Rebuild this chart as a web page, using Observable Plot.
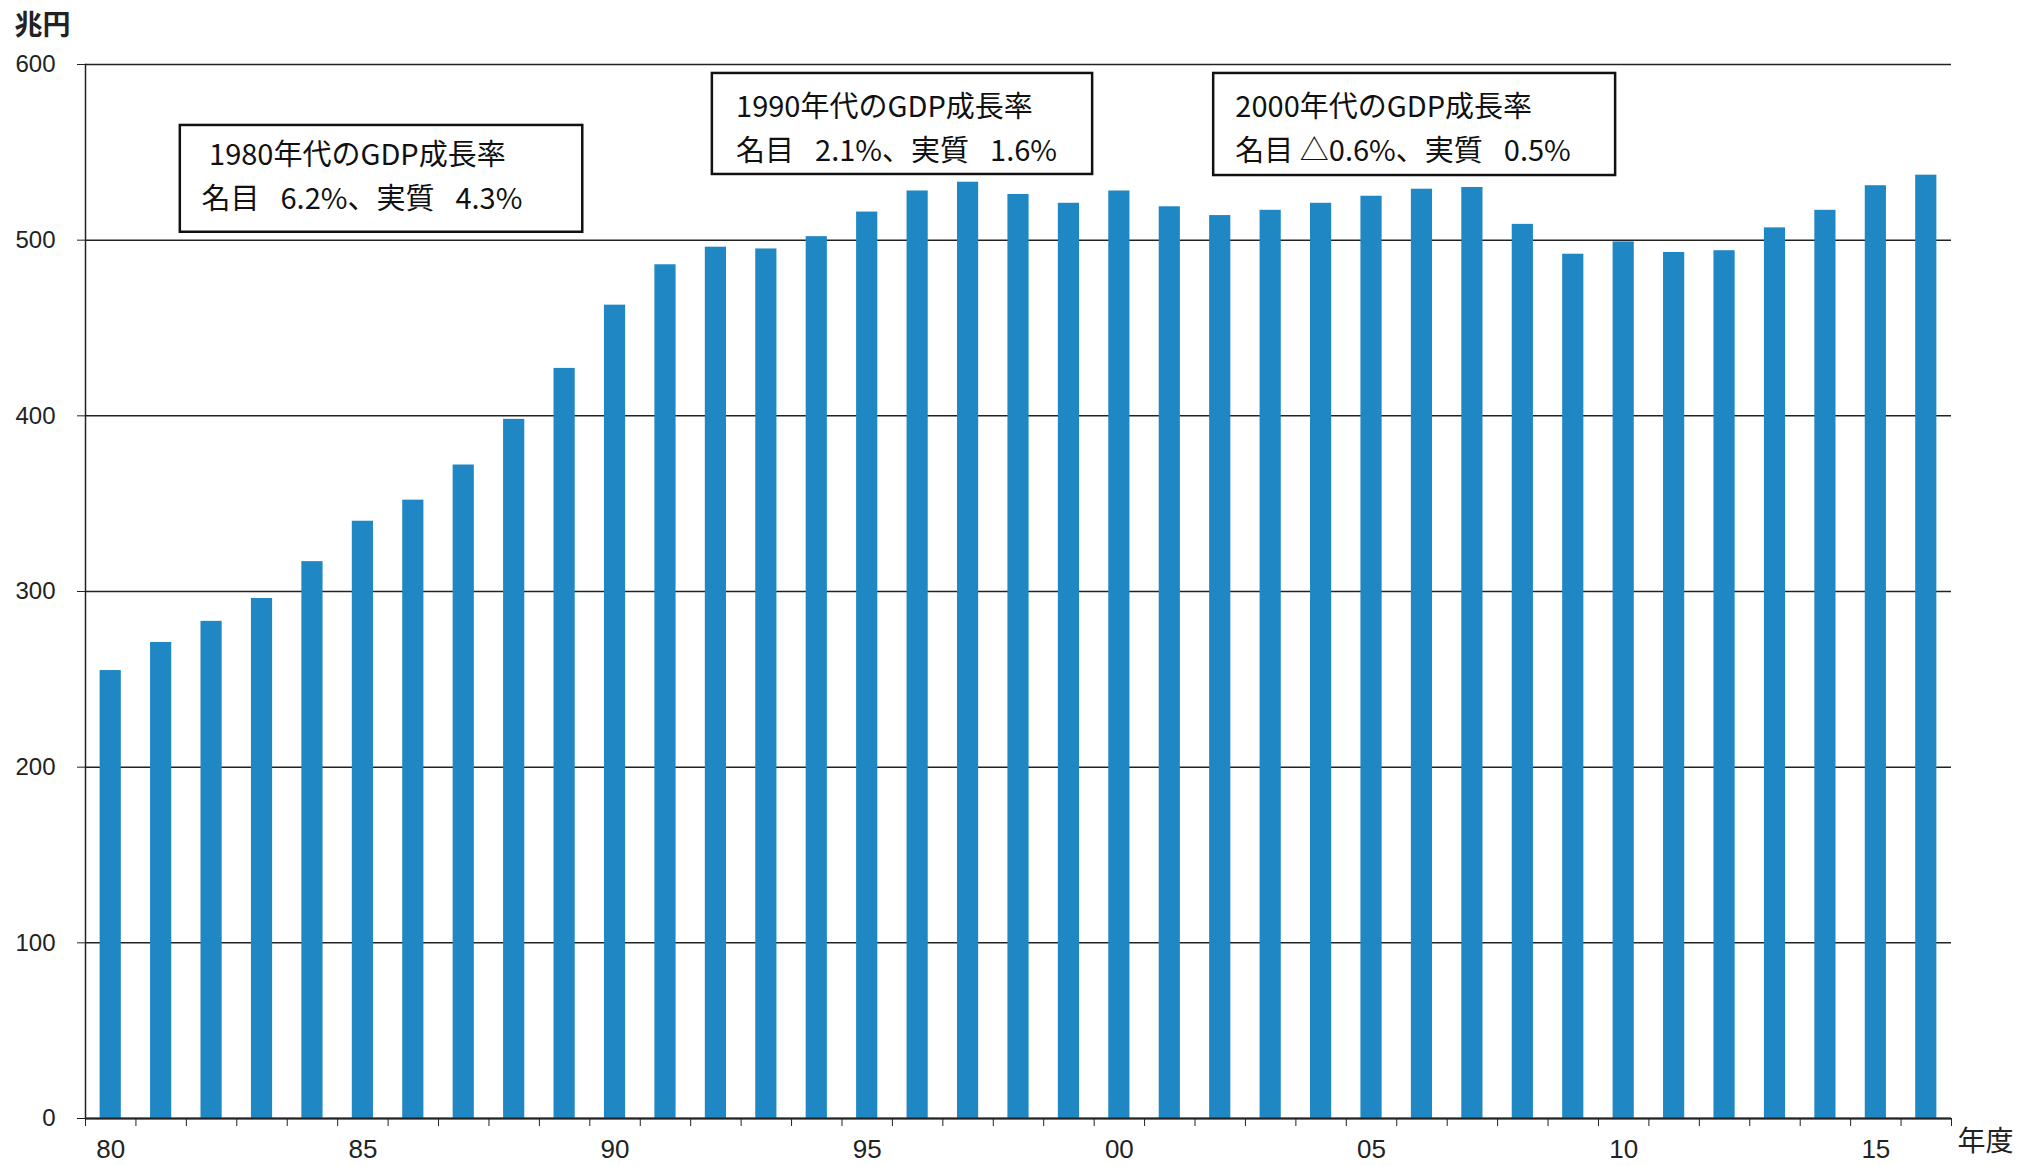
<!DOCTYPE html>
<html>
<head>
<meta charset="utf-8">
<script src="https://cdn.jsdelivr.net/npm/d3@7"></script>
<script src="https://cdn.jsdelivr.net/npm/@observablehq/plot@0.6"></script>
<style>
  html, body { margin: 0; padding: 0; background: #fff; }
  #chart svg { display: block; }
</style>
</head>
<body>
<div id="chart"></div>
<script>
// ---- Data ----
const years = [1980,1981,1982,1983,1984,1985,1986,1987,1988,1989,
               1990,1991,1992,1993,1994,1995,1996,1997,1998,1999,
               2000,2001,2002,2003,2004,2005,2006,2007,2008,2009,
               2010,2011,2012,2013,2014,2015,2016];
const gdp = [255,271,283,296,317,340,352,372,398,427,
             463,486,496,495,502,516,528,533,526,521,
             528,519,514,517,521,525,529,530,509,492,
             499,493,494,507,517,531,537];
const yTicks = [0,100,200,300,400,500,600];
const xLabelYears = [1980,1985,1990,1995,2000,2005,2010,2015];
const xLabels = ["80","85","90","95","00","05","10","15"];
const yUnit = "兆円";
const xUnit = "年度";
const noteTitles = ["1980年代のGDP成長率","1990年代のGDP成長率","2000年代のGDP成長率"];
const noteRates = ["名目\u2002 6.2%、実質\u2002 4.3%","名目\u2002 2.1%、実質\u2002 1.6%","名目 △0.6%、実質\u2002 0.5%"];

// ---- Layout (annotation placement in data units) ----
const boxLayout = [
  {x1: 1981.38, x2: 1989.36, y1: 504.5, y2: 565.3, tx: 1981.95, tx2: 1981.8, ty1: 548.2, ty2: 523.1},
  {x1: 1991.93, x2: 1999.47, y1: 537.4, y2: 594.9, tx: 1992.4, tx2: 1992.4, ty1: 575.5, ty2: 550.5},
  {x1: 2001.87, x2: 2009.84, y1: 536.8, y2: 594.9, tx: 2002.3, tx2: 2002.3, ty1: 575.5, ty2: 550.5}
];

const data = years.map((year, i) => ({year, value: gdp[i]}));
const boxes = boxLayout.map((b, i) => ({...b, title: noteTitles[i], rate: noteRates[i]}));
const halfTicks = [...years.map(y => y - 0.5), years[years.length - 1] + 0.5];
const labelMap = new Map(xLabelYears.map((y, i) => [y, xLabels[i]]));

const barColor = "#1f87c4";
const ink = "#222";
const sans = "'Liberation Sans', Arial, 'Noto Sans CJK JP', sans-serif";
const jp = "'Noto Sans CJK JP', 'Liberation Sans', sans-serif";

const chart = Plot.plot({
  width: 2019,
  height: 1166,
  marginLeft: 85,
  marginRight: 68,
  marginTop: 64,
  marginBottom: 48,
  style: {background: "#fff", fontFamily: sans, color: ink},
  x: {domain: [years[0] - 0.5, years[years.length - 1] + 0.5], axis: null},
  y: {domain: [0, 600], axis: null},
  marks: [
    Plot.gridY(yTicks, {stroke: ink, strokeOpacity: 1, strokeWidth: 1.5}),
    Plot.rectY(data, {
      x1: d => d.year - 0.21,
      x2: d => d.year + 0.21,
      y: "value",
      fill: barColor
    }),
    Plot.ruleY([0], {stroke: ink, strokeWidth: 2}),
    Plot.frame({anchor: "left", stroke: ink, strokeWidth: 1.5}),
    Plot.axisY({ticks: yTicks, tickSize: 8, tickPadding: 22, fontSize: 24, label: null, stroke: ink, fill: ink}),
    Plot.axisX({ticks: halfTicks, tickSize: 8, tickFormat: () => "", label: null, stroke: ink}),
    Plot.axisX({ticks: xLabelYears, tickSize: 0, tickPadding: 21, tickFormat: d => labelMap.get(d), fontSize: 26, label: null, fill: ink}),
    Plot.text([yUnit], {frameAnchor: "top-left", dx: -71, dy: -38, textAnchor: "start", lineAnchor: "middle", fontSize: 28, fontFamily: jp, fontWeight: "bold", fill: ink}),
    Plot.text([xUnit], {frameAnchor: "bottom-right", dx: 6, dy: 24, textAnchor: "start", lineAnchor: "middle", fontSize: 28, fontFamily: jp, fill: ink}),
    Plot.rect(boxes, {x1: "x1", x2: "x2", y1: "y1", y2: "y2", fill: "#fff", stroke: "#111", strokeWidth: 2.5}),
    Plot.text(boxes, {x: "tx", y: "ty1", text: "title", textAnchor: "start", lineAnchor: "middle", fontSize: 29, fontFamily: jp, fill: "#111"}),
    Plot.text(boxes, {x: "tx2", y: "ty2", text: "rate", textAnchor: "start", lineAnchor: "middle", fontSize: 29, fontFamily: jp, fill: "#111"})
  ]
});
document.getElementById("chart").appendChild(chart);
</script>
</body>
</html>
